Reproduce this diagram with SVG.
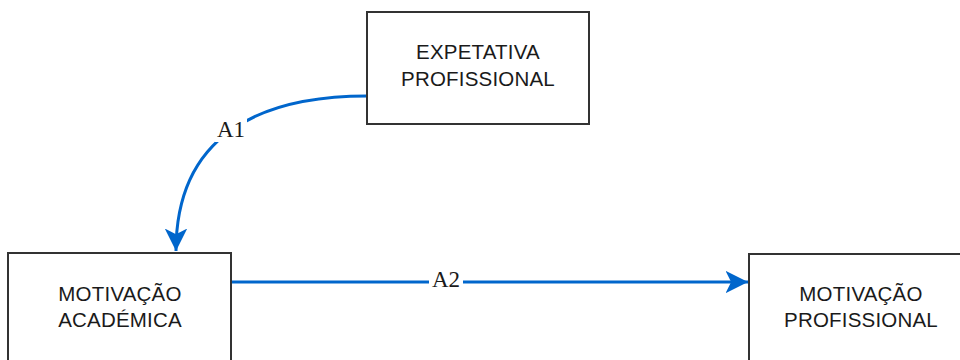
<svg xmlns="http://www.w3.org/2000/svg" width="960" height="360" viewBox="0 0 960 360">
  <style>
    .box { fill: #ffffff; stroke: #333333; stroke-width: 2; }
    .t { font-family: "Liberation Sans", Arial, sans-serif; font-size: 20.5px; fill: #1a1a1a; text-anchor: middle; letter-spacing: 0.2px; }
    .edge { fill: none; stroke: #0066cc; stroke-width: 3; }
    .lbl { font-family: "Liberation Serif", "Times New Roman", serif; font-size: 23px; fill: #1a1a1a; text-anchor: middle; }
    .lblbg { fill: #ffffff; }
  </style>
  <defs>
    <marker id="arrow" viewBox="0 0 10 10" refX="10" refY="5" markerWidth="7.5" markerHeight="7.5" markerUnits="strokeWidth" orient="auto">
      <path d="M0,0 L10,5 L0,10 L2.5,5 Z" fill="#0066cc"/>
    </marker>
  </defs>
  <rect width="960" height="360" fill="#ffffff"/>

  <g id="connectors">
    <path class="edge" d="M367,96 C260,96 176,135 176,251" marker-end="url(#arrow)"/>
    <path class="edge" d="M231,282 L748,282" marker-end="url(#arrow)"/>
    <g id="label-a1">
      <rect class="lblbg" x="215" y="116" width="32" height="26"/>
      <text class="lbl" x="231" y="137">A1</text>
    </g>
    <g id="label-a2">
      <rect class="lblbg" x="429" y="269" width="34" height="24"/>
      <text class="lbl" x="446" y="287">A2</text>
    </g>
  </g>

  <g id="node-expetativa">
    <rect class="box" x="367" y="12" width="222" height="112"/>
    <text class="t" x="478" y="59">EXPETATIVA</text>
    <text class="t" x="478" y="86">PROFISSIONAL</text>
  </g>

  <g id="node-motivacao-academica">
    <rect class="box" x="8" y="253" width="223" height="120"/>
    <text class="t" x="120" y="301">MOTIVAÇÃO</text>
    <text class="t" x="120" y="327">ACADÉMICA</text>
  </g>

  <g id="node-motivacao-profissional">
    <rect class="box" x="749" y="254" width="223" height="120"/>
    <text class="t" x="861" y="301">MOTIVAÇÃO</text>
    <text class="t" x="861" y="327">PROFISSIONAL</text>
  </g>
</svg>
